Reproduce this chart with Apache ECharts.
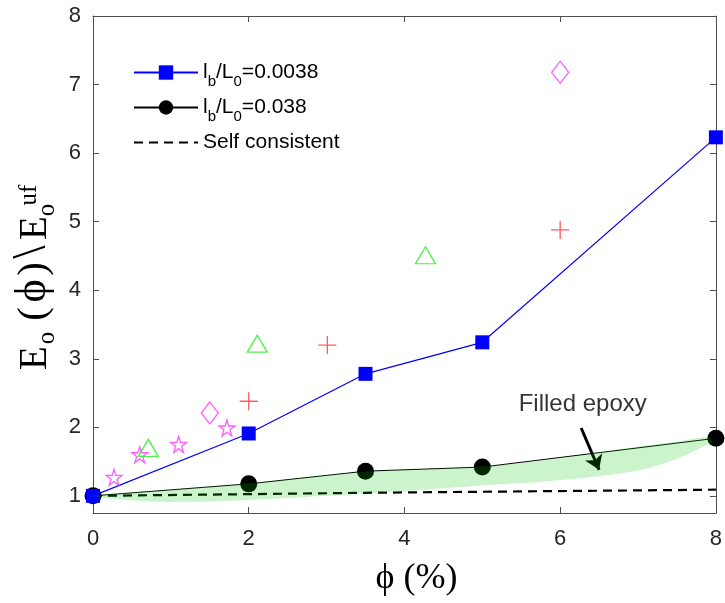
<!DOCTYPE html>
<html>
<head>
<meta charset="utf-8">
<script src="https://cdn.jsdelivr.net/npm/echarts@6/dist/echarts.min.js"></script>
<style>
html, body { margin: 0; background: #fff; }
#chart { width: 725px; height: 603px; }
</style>
</head>
<body>
<div id="chart"></div>
<script>
// values
var phi = [0, 2, 3.5, 5, 8];
var ratioThin = [1, 1.91, 2.78, 3.24, 6.23];     // lb/L0 = 0.0038
var ratioThick = [1, 1.175, 1.36, 1.42, 1.84];   // lb/L0 = 0.038
var selfX = [0, 2, 3.5, 8];
var selfY = [1, 1.025, 1.045, 1.09];

var starX = [0.27, 0.6, 1.1, 1.72];
var starY = [1.27, 1.6, 1.75, 1.99];
var diamondX = [1.5, 6];
var diamondY = [2.21, 7.18];
var triX = [0.71, 2.11, 4.27];
var triY = [1.7, 3.22, 4.51];
var plusX = [2, 3.01, 6];
var plusY = [2.38, 3.2, 4.88];

// outline of the shaded "filled epoxy" band (upper edge then lower edge)
var epoxyX = [0, 1, 2, 3.5, 5, 6, 7, 7.5, 7.9, 7.95, 7.8, 7.5, 7, 6, 5, 4, 3, 2, 1, 0.3];
var epoxyY = [1, 1.09, 1.18, 1.35, 1.43, 1.55, 1.72, 1.79, 1.86, 1.79, 1.7, 1.54, 1.37, 1.23, 1.15, 1.07, 1.0, 0.94, 0.91, 0.95];

var noteXY = [6.29, 2.33];
var arrowFrom = [6.27, 1.99];
var arrowTo = [6.5, 1.38];

var yTicks = [1, 2, 3, 4, 5, 6, 7, 8];

var nameThin = 'lb/L0=0.0038';
var nameThick = 'lb/L0=0.038';
var nameSelf = 'Self consistent';

function pairs(xs, ys) {
  return xs.map(function (x, i) { return [x, ys[i]]; });
}

var axisColor = '#4d4d4d';
var labelColor = '#262626';
var sans = 'Liberation Sans';
var serif = 'Liberation Serif';

var starPath = 'path://M50,2 L61,37 L98,37 L68,59 L79,95 L50,73 L21,95 L32,59 L2,37 L39,37 Z';
var plusPath = 'path://M50,0 L50,100 M0,50 L100,50';

function boxAxis(pos, showLabels) {
  return {
    type: 'value', position: pos, min: 0, max: 8, interval: 2,
    axisLine: { show: true, onZero: false, lineStyle: { color: axisColor, width: 1 } },
    axisTick: { show: true, inside: true, length: 6, lineStyle: { color: axisColor } },
    axisLabel: { show: showLabels, margin: 15, fontSize: 22, fontFamily: sans, color: labelColor },
    splitLine: { show: false }
  };
}
function boxYAxis(pos, showLabels) {
  return {
    type: 'value', position: pos, min: 0.75, max: 8,
    axisLine: { show: true, onZero: false, lineStyle: { color: axisColor, width: 1 } },
    axisTick: { show: true, inside: true, length: 6, customValues: yTicks, lineStyle: { color: axisColor } },
    axisLabel: { show: showLabels, margin: 12, fontSize: 22, fontFamily: sans, color: labelColor, customValues: yTicks },
    splitLine: { show: false }
  };
}

// y axis title, glyph by glyph (subscript and stacked super/subscript)
function yTitle() {
  function t(text, cx, base, size) {
    return { type: 'text', x: cx, y: base - 0.3 * size,
      style: { text: text, font: size + 'px "' + serif + '"', fill: '#000', verticalAlign: 'middle', align: 'center' } };
  }
  return {
    type: 'group', x: 47, y: 370, rotation: Math.PI / 2,
    children: [
      t('E', 12, 0, 39),
      t('o', 32, 8, 25),
      t('(', 56, 0, 41),
      t('ϕ', 79, 0, 44),
      t(')', 101, 0, 41),
      t('\\', 118, 0, 48),
      t('E', 142, 0, 39),
      t('o', 160, 8, 25),
      t('uf', 175, -10, 25)
    ]
  };
}

var chart = echarts.init(document.getElementById('chart'));
chart.setOption({
  animation: false,
  backgroundColor: '#fff',
  grid: { left: 93, right: 6, top: 16, bottom: 90, containLabel: false },
  xAxis: [
    Object.assign(boxAxis('bottom', true), {
      name: 'ϕ (%)', nameLocation: 'middle', nameGap: 48,
      nameTextStyle: { fontFamily: serif, fontSize: 36, color: '#000', padding: [0, 0, 0, 24] }
    }),
    boxAxis('top', false)
  ],
  yAxis: [boxYAxis('left', true), boxYAxis('right', false)],
  legend: {
    orient: 'vertical', left: 128, top: 51, itemWidth: 64, itemHeight: 18, itemGap: 2,
    data: [nameThin, nameThick, { name: nameSelf, itemStyle: { opacity: 0 } }],
    formatter: function (n) {
      if (n === nameThin) return 'l{s|b}/L{s|0}=0.0038';
      if (n === nameThick) return 'l{s|b}/L{s|0}=0.038';
      return n;
    },
    textStyle: {
      fontFamily: sans, fontSize: 21, color: '#000', lineHeight: 33,
      rich: { s: { fontFamily: sans, fontSize: 15, lineHeight: 15, padding: [18, 0, 0, 0], verticalAlign: 'bottom', color: '#000' } }
    }
  },
  graphic: [yTitle()],
  series: [
    {
      name: nameSelf, type: 'line', data: pairs(selfX, selfY), symbol: 'none',
      itemStyle: { color: '#000' },
      lineStyle: { color: '#000', width: 2.2, type: [9, 6] }, z: 2
    },
    {
      name: nameThick, type: 'line', data: pairs(phi, ratioThick), symbol: 'circle', symbolSize: 17,
      itemStyle: { color: '#000' }, lineStyle: { color: '#000', width: 1 }, z: 3
    },
    {
      name: nameThin, type: 'line', data: pairs(phi, ratioThin), symbol: 'rect', symbolSize: 14,
      itemStyle: { color: '#0000ff' }, lineStyle: { color: '#0000ff', width: 1.2 }, z: 3
    },
    {
      type: 'scatter', data: pairs(starX, starY), symbol: starPath, symbolSize: 16,
      itemStyle: { color: 'rgba(0,0,0,0)', borderColor: '#ff33ff', borderWidth: 1.3 }, z: 4
    },
    {
      type: 'scatter', data: pairs(diamondX, diamondY), symbol: 'diamond', symbolSize: [17, 22],
      itemStyle: { color: 'rgba(0,0,0,0)', borderColor: '#ff33ff', borderWidth: 1.3 }, z: 4
    },
    {
      type: 'scatter', data: pairs(triX, triY), symbol: 'triangle', symbolSize: [20, 17],
      itemStyle: { color: 'rgba(0,0,0,0)', borderColor: '#22ee22', borderWidth: 1.3 }, z: 4
    },
    {
      type: 'scatter', data: pairs(plusX, plusY), symbol: plusPath, symbolSize: 18,
      itemStyle: { color: 'rgba(0,0,0,0)', borderColor: '#ff3333', borderWidth: 1.3 }, z: 4
    },
    {
      type: 'custom', data: [[0, 1]], z: 5, silent: true,
      renderItem: function (params, api) {
        var pts = epoxyX.map(function (x, i) { return api.coord([x, epoxyY[i]]); });
        return { type: 'polygon', shape: { points: pts, smooth: 0.35 }, style: { fill: 'rgba(0,200,0,0.2)' } };
      }
    },
    {
      type: 'scatter', data: [noteXY], symbolSize: 1, itemStyle: { color: 'rgba(0,0,0,0)' }, z: 6, silent: true,
      label: { show: true, position: 'inside', formatter: 'Filled epoxy', fontFamily: sans, fontSize: 24, color: '#000' },
      markLine: {
        silent: true, symbol: ['none', 'arrow'], symbolSize: 14, precision: 4,
        itemStyle: { color: '#000' },
        lineStyle: { color: '#000', width: 3, type: 'solid' }, label: { show: false },
        data: [[{ coord: arrowFrom }, { coord: arrowTo }]]
      }
    }
  ]
});
</script>
</body>
</html>
